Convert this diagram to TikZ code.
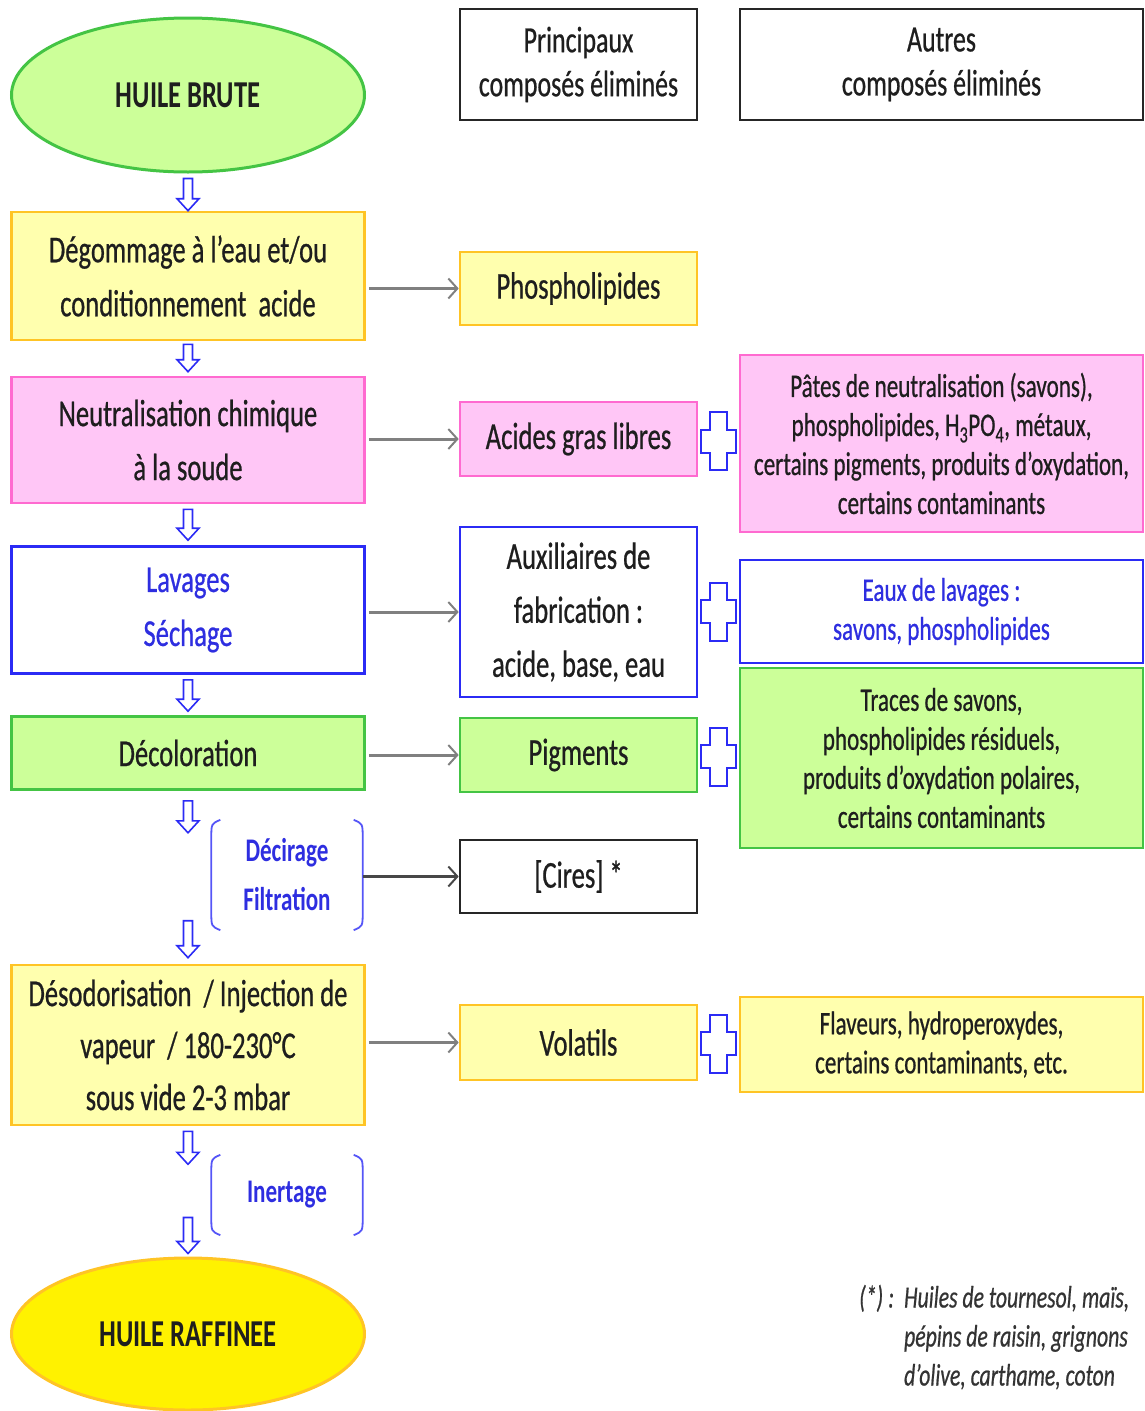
\documentclass[tikz,border=0pt]{standalone}
\usepackage{fontspec}
\setmainfont{Carlito}[FakeStretch=0.7,
  UprightFeatures={FakeBold=0.6}, ItalicFeatures={FakeBold=0.6}]
\usetikzlibrary{arrows.meta,positioning,calc,shapes.geometric}

\definecolor{yelfill}{HTML}{FFFFAE}
\definecolor{yeldraw}{HTML}{FFC425}
\definecolor{pinkfill}{HTML}{FFC6F6}
\definecolor{pinkdraw}{HTML}{FF6AD0}
\definecolor{grnfill}{HTML}{CCFF99}
\definecolor{grndraw}{HTML}{44C444}
\definecolor{bludraw}{HTML}{2B2BF5}
\definecolor{blutext}{HTML}{2E2EE0}
\definecolor{inktext}{HTML}{1E1E1E}

\newcommand{\hollowarrow}[2]{%
  \draw[hollow] ([xshift=-4.5pt]#1) -- ([xshift=-4.5pt,yshift=12pt]#2)
    -- ([xshift=-11pt,yshift=12pt]#2) -- (#2) -- ([xshift=11pt,yshift=12pt]#2)
    -- ([xshift=4.5pt,yshift=12pt]#2) -- ([xshift=4.5pt]#1) -- cycle;}

\begin{document}
\begin{tikzpicture}[
  x=1pt, y=-1pt,
  text=inktext,
  stepbox/.style={
    draw, line width=2.6pt,
    minimum width=353pt,
    align=center, inner sep=4pt,
    font=\fontsize{38}{54}\selectfont
  },
  midbox/.style={
    stepbox, minimum width=237pt
  },
  sidebox/.style={
    stepbox, minimum width=403pt,
    font=\fontsize{33}{39}\selectfont
  },
  headbox/.style={
    draw=black!85, line width=2.8pt,
    align=center, minimum height=111pt,
    font=\fontsize{37}{44}\selectfont
  },
  yel/.style={fill=yelfill, draw=yeldraw},
  pink/.style={fill=pinkfill, draw=pinkdraw},
  grn/.style={fill=grnfill, draw=grndraw},
  blu/.style={fill=white, draw=bludraw},
  blk/.style={fill=white, draw=black!85},
  oval/.style={
    ellipse, line width=3pt,
    minimum width=353pt,
    font=\bfseries\fontsize{38}{44}\selectfont
  },
  bracketed/.style={
    minimum width=151pt, align=center,
    text=blutext,
    font=\bfseries\fontsize{33}{49}\selectfont
  },
  paren/.style={draw=bludraw!80, line width=1.8pt},
  hollow/.style={draw=bludraw, fill=white, line width=1.6pt, line join=miter},
  link/.style={-{Straight Barb[length=9pt,width=20pt,line width=2pt]},
    line width=3pt, draw=black!50},
  plus/.pic={
    \draw[draw=bludraw, fill=white, line width=2pt]
      (-8.5,-29) -- (8.5,-29) -- (8.5,-11.5) -- (17.5,-11.5) -- (17.5,11.5)
      -- (8.5,11.5) -- (8.5,29) -- (-8.5,29) -- (-8.5,11.5) -- (-17.5,11.5)
      -- (-17.5,-11.5) -- (-8.5,-11.5) -- cycle;
  }
]
\useasboundingbox (0,0) rectangle (1145,1411);

% process steps
\node[oval, fill=grnfill, draw=grndraw, minimum height=154pt] (brute) at (188,95) {HUILE BRUTE};
\node[stepbox, yel, minimum height=128pt] (degom) at (188,276) {Dégommage à l’eau et/ou\\conditionnement\ \ acide};
\node[stepbox, pink, minimum height=126pt] (neutra) at (188,440) {Neutralisation chimique\\à la soude};
\node[stepbox, blu, minimum height=127pt, text=blutext] (lavage) at (188,610) {Lavages\\Séchage};
\node[stepbox, grn, minimum height=73pt] (decolo) at (188,753) {Décoloration};
\node[bracketed, minimum height=110pt] (decira) at (287,875) {Décirage\\Filtration};
\node[stepbox, yel, minimum height=160pt, font=\fontsize{38}{52}\selectfont] (desodo) at (188,1045)
  {Désodorisation\ \ / Injection de\\vapeur\ \ / 180-230°C\\sous vide 2-3 mbar};
\node[bracketed, minimum height=80pt] (inerta) at (287,1195) {Inertage};
\node[oval, fill=yellow, draw=yeldraw, minimum height=152pt] (raffin) at (188,1334) {HUILE RAFFINEE};

% principal compounds
\node[headbox, minimum width=237pt] (princ) at (578.5,64.5) {Principaux\\composés éliminés};
\node[midbox, yel, minimum height=73pt] (phosph) at (578.5,288.5) {Phospholipides};
\node[midbox, pink, minimum height=74pt] (acides) at (578.5,439) {Acides gras libres};
\node[midbox, blu, minimum height=170pt] (auxil) at (578.5,612) {Auxiliaires de\\fabrication :\\acide, base, eau};
\node[midbox, grn, minimum height=74pt] (pigmen) at (578.5,755) {Pigments};
\node[midbox, blk, minimum height=73pt] (cires) at (578.5,876.5) {[Cires] *};
\node[midbox, yel, minimum height=75pt] (volat) at (578.5,1042.5) {Volatils};

% other compounds
\node[headbox, minimum width=403pt] (autres) at (941.5,64.5) {Autres\\composés éliminés};
\node[sidebox, pink, minimum height=177pt] (pates) at (941.5,443.5)
  {Pâtes de neutralisation (savons),\\phospholipides, H\textsubscript{3}PO\textsubscript{4}, métaux,\\certains pigments, produits d’oxydation,\\certains contaminants};
\node[sidebox, blu, minimum height=103pt, text=blutext] (eaux) at (941.5,611.5) {Eaux de lavages :\\savons, phospholipides};
\node[sidebox, grn, minimum height=180pt] (traces) at (941.5,758)
  {Traces de savons,\\phospholipides résiduels,\\produits d’oxydation polaires,\\certains contaminants};
\node[sidebox, yel, minimum height=95pt] (flaveu) at (941.5,1044.5) {Flaveurs, hydroperoxydes,\\certains contaminants, etc.};

\node[anchor=north west, inner sep=0pt, text=black!80, font=\itshape\fontsize{31}{39}\selectfont] (note) at (859,1280)
  {\begin{tabular}{@{}l@{\hspace{10pt}}l@{}}(*)\,: & Huiles de tournesol, maïs,\\ & pépins de raisin, grignons\\ & d’olive, carthame, coton\end{tabular}};

% brackets round the side steps
\foreach \b in {decira, inerta} {
  \draw[paren] ([xshift=9pt]\b.north west) .. controls ([yshift=-4pt]\b.north west) .. ([yshift=-18pt]\b.north west)
    -- ([yshift=18pt]\b.south west) .. controls ([yshift=4pt]\b.south west) .. ([xshift=9pt]\b.south west);
  \draw[paren] ([xshift=-9pt]\b.north east) .. controls ([yshift=-4pt]\b.north east) .. ([yshift=-18pt]\b.north east)
    -- ([yshift=18pt]\b.south east) .. controls ([yshift=4pt]\b.south east) .. ([xshift=-9pt]\b.south east);
}

% downward flow
\coordinate (f1a) at ([yshift=-5pt]brute.south);
\coordinate (f1b) at (degom.north);
\coordinate (f2a) at ([yshift=-3pt]degom.south);
\coordinate (f2b) at ([yshift=4pt]neutra.north);
\coordinate (f3a) at ([yshift=-5pt]neutra.south);
\coordinate (f3b) at ([yshift=5pt]lavage.north);
\coordinate (f4a) at ([yshift=-5pt]lavage.south);
\coordinate (f4b) at ([yshift=4pt]decolo.north);
\coordinate (f5a) at ([yshift=-10pt]decolo.south);
\coordinate (f5b) at ([yshift=-42pt]decolo.south);
\coordinate (f6a) at ([yshift=43pt]desodo.north);
\coordinate (f6b) at ([yshift=6pt]desodo.north);
\coordinate (f7a) at ([yshift=-5pt]desodo.south);
\coordinate (f7b) at ([yshift=-38pt]desodo.south);
\coordinate (f8a) at ([yshift=39pt]raffin.north);
\coordinate (f8b) at ([yshift=3pt]raffin.north);

\foreach \n in {1,...,8} {
  \hollowarrow{f\n a}{f\n b}
}

% compounds removed at each step
\draw[link] (phosph.west -| degom.east) ++(3,0) -- (phosph.west);
\draw[link] (acides.west -| neutra.east) ++(3,0) -- (acides.west);
\draw[link] (auxil.west -| lavage.east) ++(3,0) -- (auxil.west);
\draw[link] (pigmen.west -| decolo.east) ++(3,0) -- (pigmen.west);
\draw[link, draw=black!72] (cires.west -| decira.east) -- (cires.west);
\draw[link] (volat.west -| desodo.east) ++(3,0) -- (volat.west);

\pic at ($(acides.east)!0.5!(pates.west)$) {plus};
\pic at ($(auxil.east)!0.5!(eaux.west)$) {plus};
\pic at ($(pigmen.east)!0.5!(traces.west)$) {plus};
\pic at ($(volat.east)!0.5!(flaveu.west)$) {plus};

\end{tikzpicture}
\end{document}
